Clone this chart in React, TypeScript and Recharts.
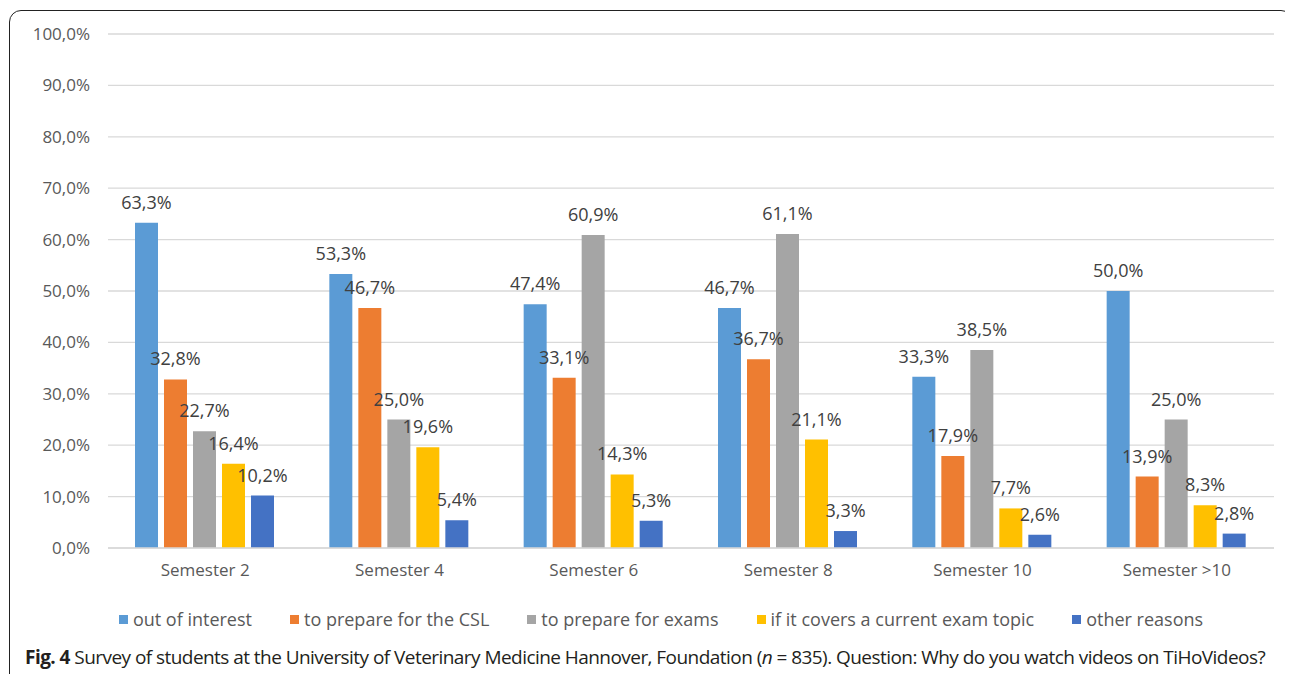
import React from 'react';
import { BarChart, Bar, XAxis, YAxis, CartesianGrid, Legend, LabelList } from 'recharts';

// Share of students per reason, by semester (percent)
const semesters = ['Semester 2', 'Semester 4', 'Semester 6', 'Semester 8', 'Semester 10', 'Semester >10'];
const outOfInterest = [63.3, 53.3, 47.4, 46.7, 33.3, 50.0];
const prepareCsl = [32.8, 46.7, 33.1, 36.7, 17.9, 13.9];
const prepareExams = [22.7, 25.0, 60.9, 61.1, 38.5, 25.0];
const currentExamTopic = [16.4, 19.6, 14.3, 21.1, 7.7, 8.3];
const otherReasons = [10.2, 5.4, 5.3, 3.3, 2.6, 2.8];
const yTicks = [0, 10, 20, 30, 40, 50, 60, 70, 80, 90, 100];

const SERIES = [
  { key: 'interest', name: 'out of interest', color: '#5B9BD5', values: outOfInterest },
  { key: 'csl', name: 'to prepare for the CSL', color: '#ED7D31', values: prepareCsl },
  { key: 'exams', name: 'to prepare for exams', color: '#A5A5A5', values: prepareExams },
  { key: 'topic', name: 'if it covers a current exam topic', color: '#FFC000', values: currentExamTopic },
  { key: 'other', name: 'other reasons', color: '#4472C4', values: otherReasons },
];

const data = semesters.map((s, i) => {
  const row: Record<string, any> = { semester: s };
  SERIES.forEach(se => { row[se.key] = se.values[i]; });
  return row;
});

const FONT = '"Open Sans", sans-serif';
const pct = (v: number) => v.toFixed(1).replace('.', ',') + '%';

function LegendRow() {
  return (
    <div style={{ display: 'flex', justifyContent: 'center', alignItems: 'center', gap: 38, height: 32, paddingLeft: 40, fontFamily: FONT, fontSize: 18, color: '#595959' }}>
      {SERIES.map(s => (
        <div key={s.key} style={{ display: 'flex', alignItems: 'center', gap: 5 }}>
          <div style={{ width: 9, height: 9, background: s.color }} />
          <span>{s.name}</span>
        </div>
      ))}
    </div>
  );
}

export default function App() {
  return (
    <div style={{ position: 'relative', width: 1285, height: 666, overflow: 'hidden', background: '#fff' }}>
      <div style={{ position: 'absolute', left: 1, top: 2, width: 1284, height: 720, boxSizing: 'border-box', border: '1.5px solid #222', borderRadius: 12 }} />
      <div style={{ position: 'absolute', left: 0, top: 0 }}>
        <BarChart width={1285} height={627} data={data} margin={{ top: 26, right: 19, bottom: 0, left: 0 }}
          barCategoryGap={27} barGap={6}>
          <CartesianGrid vertical={false} stroke="#d9d9d9" strokeWidth={1.3} />
          <XAxis dataKey="semester" height={55} axisLine={{ stroke: '#d9d9d9', strokeWidth: 1.3 }} tickLine={false}
            tickMargin={10} tick={{ fill: '#595959', fontSize: 17, fontFamily: FONT }} />
          <YAxis width={100} domain={[0, 100]} ticks={yTicks} tickFormatter={pct} axisLine={false} tickLine={false}
            tickMargin={12} tick={{ fill: '#595959', fontSize: 17, fontFamily: FONT }} />
          <Legend verticalAlign="bottom" content={() => <LegendRow />} />
          {SERIES.map(s => (
            <Bar key={s.key} dataKey={s.key} name={s.name} fill={s.color} isAnimationActive={false}>
              <LabelList dataKey={s.key} position="top" offset={14} formatter={(v: any) => pct(Number(v))}
                style={{ fill: '#404040', fontSize: 18, fontFamily: FONT }} />
            </Bar>
          ))}
        </BarChart>
      </div>
      {/* figure caption, tightened so it fits on one line */}
      <div style={{ position: 'absolute', left: 17, top: 639, whiteSpace: 'nowrap', fontFamily: FONT, fontSize: 19, letterSpacing: -0.55, lineHeight: '20px', color: '#231f20' }}>
        <b>Fig. 4</b> Survey of students at the University of Veterinary Medicine Hannover, Foundation (<i>n</i> = 835). Question: Why do you watch videos on TiHoVideos?
      </div>
    </div>
  );
}
